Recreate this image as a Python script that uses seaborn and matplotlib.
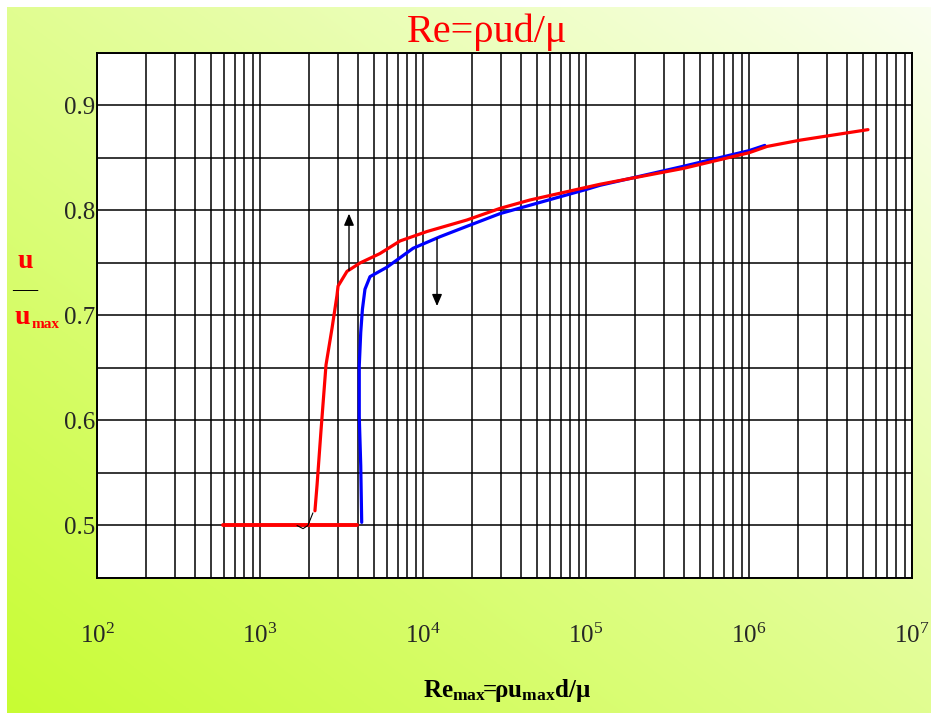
import numpy as np
import pandas as pd
import matplotlib
matplotlib.use('Agg')
import matplotlib.pyplot as plt
import seaborn as sns
from matplotlib.ticker import MultipleLocator, FormatStrFormatter, LogLocator

# ---- DATI ----
# curva rossa: tratto orizzontale laminare
red_flat_re = [593, 3936]
red_flat_u = [0.500, 0.500]

# curva rossa: transizione e turbolento
red_re = [2173, 2240, 2366, 2541, 2767, 2966, 3012, 3417, 4105, 5443, 7230,
          10590, 18630, 29650, 45300, 1.0e5, 1.22e5, 3.93e5, 1.0e6, 1.29e6,
          2.06e6, 5.37e6]
red_u = [0.514, 0.539, 0.590, 0.653, 0.688, 0.719, 0.728, 0.742, 0.750, 0.759,
         0.771, 0.780, 0.791, 0.802, 0.810, 0.822, 0.825, 0.840, 0.855, 0.861,
         0.867, 0.877]

# curva blu
blue_re = [4207, 4150, 4064, 4064, 4150, 4250, 4405, 4730, 6010, 8690, 12700,
           18630, 29650, 1.0e5, 1.22e5, 3.93e5, 1.0e6, 1.25e6]
blue_u = [0.503, 0.557, 0.604, 0.652, 0.684, 0.706, 0.725, 0.737, 0.746, 0.764,
          0.775, 0.785, 0.797, 0.820, 0.824, 0.842, 0.857, 0.862]

# piccolo raccordo nero
link_re = [1687, 1837, 1967, 2112]
link_u = [0.500, 0.497, 0.500, 0.512]

# frecce (x, y_inizio, y_fine)
arrow_up = (3516, 0.743, 0.797)
arrow_down = (12190, 0.773, 0.709)

y_ticks = [0.5, 0.6, 0.7, 0.8, 0.9]

# ---- STILE ----
sns.set_style('white')
plt.rcParams['font.family'] = ['Liberation Serif', 'DejaVu Serif']
plt.rcParams['mathtext.fontset'] = 'custom'
plt.rcParams['mathtext.rm'] = 'Liberation Serif'
plt.rcParams['mathtext.it'] = 'Liberation Serif:italic'
plt.rcParams['mathtext.bf'] = 'Liberation Serif:bold'

W, H = 931, 713
fig = plt.figure(figsize=(W / 100, H / 100), dpi=100)
fig.patch.set_facecolor('white')

# ---- SFONDO SFUMATO ----
bg = fig.add_axes([7 / W, 0, 1 - 7 / W, 1 - 7 / H], zorder=-5)
gx, gy = np.meshgrid(np.linspace(0, 1, 300), np.linspace(1, 0, 300))
t = (gx + gy) / 2
c0 = np.array([200, 252, 50]) / 255
c1 = np.array([250, 255, 240]) / 255
img = c0[None, None, :] * (1 - t[..., None]) + c1[None, None, :] * t[..., None]
bg.imshow(img, aspect='auto', extent=[0, 1, 0, 1])
bg.set_axis_off()

# ---- AREA GRAFICO ----
left, right, top, bottom = 97 / W, 912 / W, 1 - 53 / H, 1 - 578 / H
ax = fig.add_axes([left, bottom, right - left, top - bottom])
ax.set_facecolor('white')
ax.set_xscale('log')
ax.set_xlim(1e2, 1e7)
ax.set_ylim(0.45, 0.95)

ax.xaxis.set_major_locator(LogLocator(base=10, numticks=10))
ax.xaxis.set_minor_locator(LogLocator(base=10, subs=np.arange(2, 10), numticks=50))
ax.set_yticks(y_ticks)
ax.yaxis.set_minor_locator(MultipleLocator(0.05))
ax.yaxis.set_major_formatter(FormatStrFormatter('%.1f'))
ax.xaxis.set_minor_formatter(plt.NullFormatter())

ax.grid(which='both', color='black', linewidth=1.1)
ax.set_axisbelow(True)
for s in ax.spines.values():
    s.set_color('black')
    s.set_linewidth(1.4)

ax.tick_params(which='both', length=0)
ax.tick_params(axis='x', pad=33, labelsize=18)
ax.tick_params(axis='y', pad=1, labelsize=18)

# ---- CURVE ----
sns.lineplot(x=red_flat_re, y=red_flat_u, color='#ff0000', linewidth=2.8,
             sort=False, estimator=None, ax=ax)
sns.lineplot(x=blue_re, y=blue_u, color='#0000ff', linewidth=2.3,
             sort=False, estimator=None, ax=ax)
sns.lineplot(x=red_re, y=red_u, color='#ff0000', linewidth=2.3,
             sort=False, estimator=None, ax=ax)
sns.lineplot(x=link_re, y=link_u, color='black', linewidth=0.8,
             sort=False, estimator=None, ax=ax)

for xa, y0, y1 in (arrow_up, arrow_down):
    ax.annotate('', xy=(xa, y1), xytext=(xa, y0),
                arrowprops=dict(arrowstyle='-|>,head_width=0.3,head_length=0.7',
                                color='black', lw=1.0, shrinkA=0, shrinkB=0))

ax.set_xlabel('')
ax.set_ylabel('')

# ---- TESTI ----
fig.text(487 / W, 1 - 32 / H, 'Re=ρud/μ', color='#ff0000', fontsize=29,
         ha='center', va='center')
fig.text(507 / W, 1 - 690 / H,
         r'$\mathbf{Re_{max}}\!\!\mathbf{=}\!\!\mathbf{\rho u_{max}d/\mu}$',
         color='black', fontsize=18, ha='center', va='center')
fig.text(25 / W, 1 - 262 / H, 'u', color='#ff0000', fontsize=20,
         fontweight='bold', ha='center', va='center')
fig.text(25 / W, 1 - 289 / H, '—', color='black', fontsize=18,
         ha='center', va='center')
fig.text(15 / W, 1 - 318 / H, 'u', color='#ff0000', fontsize=20,
         fontweight='bold', ha='left', va='center')
fig.text(32 / W, 1 - 325 / H, 'max', color='#ff0000', fontsize=11,
         fontweight='bold', ha='left', va='center')

fig.savefig('out.png', dpi=100)
